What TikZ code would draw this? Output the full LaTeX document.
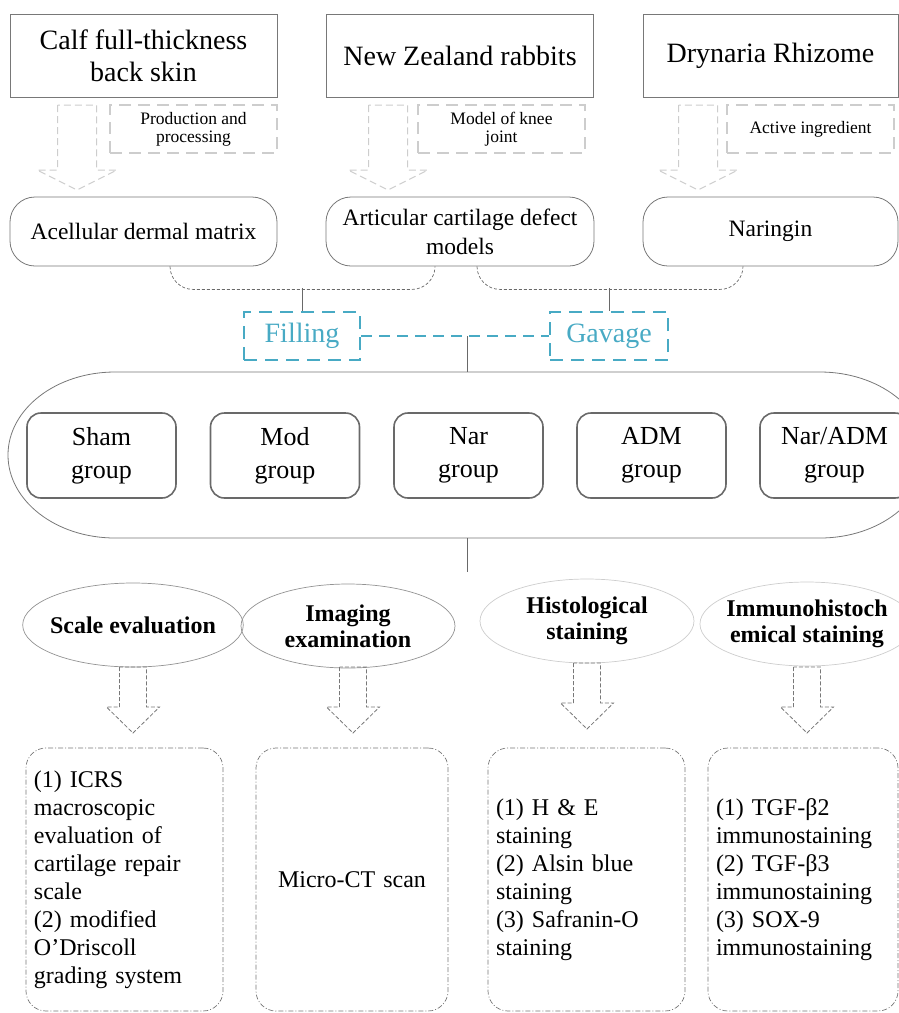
\documentclass[tikz,border=0pt]{standalone}
\usepackage{fontspec}
\setmainfont{Liberation Serif}
\usetikzlibrary{shapes.geometric, positioning}

\definecolor{boxline}{RGB}{120,120,120}
\definecolor{lightline}{RGB}{205,205,205}
\definecolor{groupline}{RGB}{105,105,105}
\definecolor{fillblue}{RGB}{72,170,196}

\begin{document}
\begin{tikzpicture}[x=1pt, y=-1pt,
    srcbox/.style={draw=boxline, line width=0.9pt, minimum width=267pt, minimum height=83pt, inner sep=0pt, align=center, font=\fontsize{28}{32}\selectfont},
    notebox/.style={draw=lightline, line width=1.8pt, dash pattern=on 12pt off 7pt, minimum width=167pt, minimum height=48pt, inner sep=0pt, align=center, font=\fontsize{17.5}{18}\selectfont},
    outbox/.style={draw=boxline, line width=0.8pt, rounded corners=25pt, minimum width=267pt, minimum height=69pt, inner sep=0pt, align=center, font=\fontsize{23.5}{29}\selectfont},
    routebox/.style={draw=fillblue, text=fillblue, line width=2.2pt, dash pattern=on 13pt off 8pt, minimum width=116pt, minimum height=48pt, inner sep=0pt, font=\fontsize{28}{30}\selectfont},
    groupbox/.style={draw=groupline, line width=1.6pt, rounded corners=14pt, minimum width=149pt, minimum height=85pt, inner sep=0pt, align=center, font=\fontsize{26}{33}\selectfont},
    testell/.style={ellipse, draw=#1, line width=0.7pt, minimum width=214pt, minimum height=84pt, inner xsep=-5pt, inner ysep=3pt, align=center, font=\fontsize{24}{26}\bfseries\selectfont},
    resultbox/.style={draw=boxline, line width=0.7pt, dash pattern=on 5pt off 2pt on 1pt off 2pt, rounded corners=20pt, minimum height=263pt, inner xsep=8pt, text width=#1, align=left, font=\fontsize{24}{28}\selectfont},
    lightarrow/.style={draw=lightline, line width=1pt, dash pattern=on 7pt off 4pt},
    darkarrow/.style={draw=boxline, line width=0.8pt, dash pattern=on 4pt off 2pt},
    bracket/.style={draw=groupline, line width=0.7pt, dash pattern=on 3pt off 2pt, rounded corners=23pt},
    routeline/.style={draw=fillblue, line width=1.8pt, dash pattern=on 11pt off 7pt},
    link/.style={draw=groupline, line width=0.8pt}
  ]
  \useasboundingbox (0,0) rectangle (899,1013);
  \clip (0,0) rectangle (899,1013);

  % sources
  \node[srcbox] (calf) at (143.5,55.5) {Calf full-thickness\\back skin};
  \node[srcbox] (rabbit) at (460,55.5) {New Zealand rabbits};
  \node[srcbox, minimum width=255pt] (rhizome) at (770.5,55.5) {Drynaria Rhizome};

  \node[notebox] (prod) at (193.5,129) {Production and\\processing};
  \node[notebox] (knee) at (501.5,129) {Model of knee\\joint};
  \node[notebox] (active) at (810.5,129) {Active ingredient};

  \foreach \x in {77,388,698}
    \draw[lightarrow] (\x-19.5,105) -- (\x-19.5,170) -- (\x-40,170) -- (\x,190) -- (\x+40,170) -- (\x+19.5,170) -- (\x+19.5,105) -- cycle;

  \node[outbox] (acell) at (143.5,231.5) {Acellular dermal matrix};
  \node[outbox, minimum width=268pt] (defect) at (460,231.5) {Articular cartilage defect\\models};
  \node[outbox, minimum width=255pt] (naringin) at (770.5,231.5) {Naringin};

  % treatment
  \node[routebox] (fill) at (302,336) {Filling};
  \node[routebox, minimum width=118pt] (gav) at (609,336) {Gavage};

  \draw[bracket] ([xshift=26.5]acell.south) -- ++(0,23) -| ([xshift=-25]defect.south);
  \draw[bracket] ([xshift=17]defect.south) -- ++(0,23) -| ([xshift=-27.5]naringin.south);
  \draw[link] (fill.north) -- ++(0,-23);
  \draw[link] (gav.north) -- ++(0,-23);
  \draw[routeline] (fill.east) -- (gav.west);

  % groups
  \draw[draw=boxline, line width=0.8pt] (115,372) -- (820,372) arc[start angle=-90, end angle=90, x radius=107, y radius=83] -- (115,538) arc[start angle=90, end angle=270, x radius=107, y radius=83] -- cycle;
  \coordinate (gtop) at (467.5,372);
  \coordinate (gbot) at (467.5,538);
  \coordinate (split) at (467.5,572);
  \draw[link] (gtop |- fill.east) -- (gtop);
  \draw[link] (gbot) -- (split);

  \foreach \n/\x/\t in {sham/101.5/Sham, mod/285/Mod, nar/468.5/Nar, adm/651.5/ADM, naradm/834.5/{Nar/ADM}}
    \node[groupbox] (g-\n) at (\x,455.5) {\t\\group};

  % evaluation
  \node[testell=boxline!80] (scale) at (133,625) {Scale evaluation};
  \node[testell=boxline!80] (imaging) at (348,626) {Imaging\\examination};
  \node[testell=lightline] (histo) at (587,621) {Histological\\staining};
  \node[testell=lightline] (immuno) at (807,624) {Immunohistoch\\emical staining};

  \foreach \x/\y in {133/667, 353/667, 587/663, 807/667}
    \draw[darkarrow] (\x-13.5,\y) -- (\x-13.5,\y+40) -- (\x-26.5,\y+40) -- (\x,\y+66) -- (\x+26.5,\y+40) -- (\x+13.5,\y+40) -- (\x+13.5,\y) -- cycle;

  \node[resultbox=181pt] (icrs) at (124.5,879.5) {(1) ICRS\\macroscopic\\evaluation of\\cartilage repair\\scale\\(2) modified\\O'Driscoll\\grading system};
  \node[resultbox=176pt, align=center] (ct) at (352,879.5) {Micro-CT scan};
  \node[resultbox=181pt] (stain) at (586.5,879.5) {(1) H \& E\\staining\\(2) Alsin blue\\staining\\(3) Safranin-O\\staining};
  \node[resultbox=174pt] (ihc) at (803,879.5) {(1) TGF-β2\\immunostaining\\(2) TGF-β3\\immunostaining\\(3) SOX-9\\immunostaining};
\end{tikzpicture}
\end{document}
